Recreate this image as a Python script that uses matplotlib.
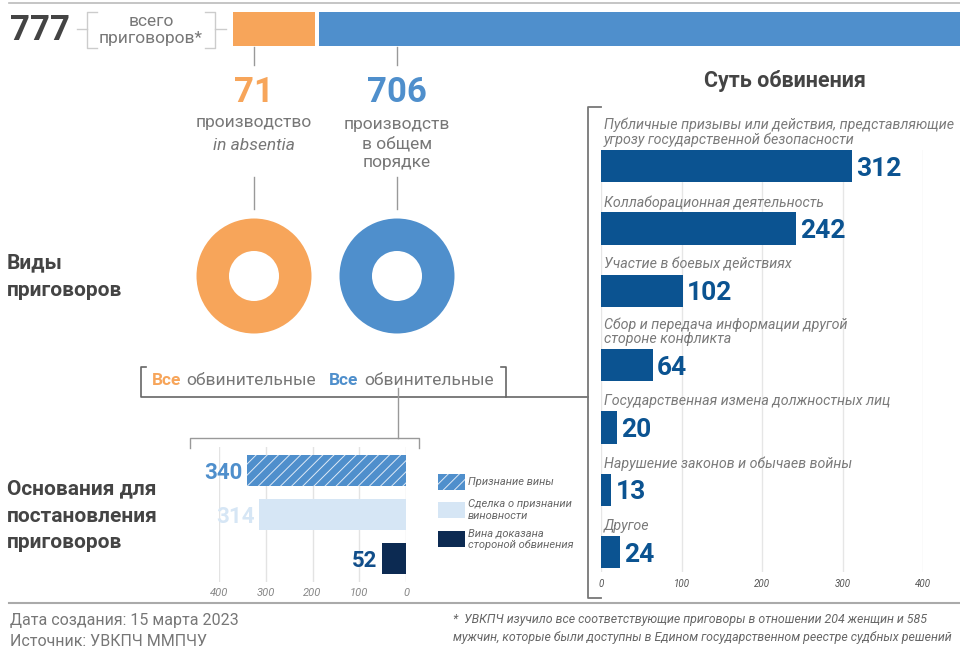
import matplotlib
matplotlib.use('Agg')
import matplotlib.pyplot as plt
from matplotlib.lines import Line2D
from matplotlib.patches import Rectangle

plt.rcParams['font.family'] = ['Roboto', 'DejaVu Sans']
plt.rcParams['hatch.linewidth'] = 0.7

# data
total = 777
kind_values = [71, 706]
kind_labels = [['производство', 'in absentia'], ['производств', 'в общем', 'порядке']]
basis_labels = ['Признание вины', 'Сделка о признании\nвиновности', 'Вина доказана\nстороной обвинения']
basis_values = [340, 314, 52]
charge_labels = ['Публичные призывы или действия, представляющие\nугрозу государственной безопасности',
                 'Коллаборационная деятельность',
                 'Участие в боевых действиях',
                 'Сбор и передача информации другой\nстороне конфликта',
                 'Государственная измена должностных лиц',
                 'Нарушение законов и обычаев войны',
                 'Другое']
charge_values = [312, 242, 102, 64, 20, 13, 24]

ORANGE = '#f7a55a'
BLUE = '#4f8fcc'
LIGHT = '#d6e6f5'
NAVY = '#0c2a52'
DBLUE = '#0b5391'
DARK = '#444444'
GRAY = '#777777'

W, H = 960, 648
fig = plt.figure(figsize=(W / 100, H / 100), dpi=100)


def fx(x):
    return x / W


def fy(y):
    return 1 - y / H


def line(xs, ys, color='#999999', lw=1.0):
    fig.add_artist(Line2D([fx(x) for x in xs], [fy(y) for y in ys], color=color, lw=lw))


def axes(x0, y0, x1, y1):
    return fig.add_axes([x0 / W, 1 - y1 / H, (x1 - x0) / W, (y1 - y0) / H])


def text(x, y, s, **kw):
    kw.setdefault('va', 'center')
    return fig.text(fx(x), fy(y), s, **kw)


# frame lines
line([9, 960], [3, 3], '#bbbbbb', 1.2)
line([9, 960], [603, 603], '#aaaaaa', 1.5)

# top total bar
text(10, 30, str(total), fontsize=25, fontweight='bold', color=DARK, ha='left')
line([77, 87], [29, 29], '#cccccc')
line([97, 87, 87, 97], [12, 12, 48, 48], '#cccccc')
line([205, 215, 215, 205], [12, 12, 48, 48], '#cccccc')
line([215, 226], [29, 29], '#cccccc')
text(151, 21, 'всего', fontsize=12.5, color=GRAY, ha='center')
text(151, 38, 'приговоров*', fontsize=12.5, color=GRAY, ha='center')

ax_top = axes(233, 12, 960, 46)
scale = 82 / kind_values[0]
ax_top.barh(0, kind_values[0], left=0, height=1, color=ORANGE)
ax_top.barh(0, kind_values[1], left=kind_values[0] + 4 / scale, height=1, color=BLUE)
ax_top.set_xlim(0, (960 - 233) / scale)
ax_top.set_ylim(-0.5, 0.5)
ax_top.axis('off')

# kinds of sentences
kind_x = [254, 397]
kind_colors = [ORANGE, BLUE]
for i in range(2):
    cx = kind_x[i]
    line([cx, cx], [47, 65], '#999999')
    line([cx, cx], [177, 209], '#999999')
    text(cx, 93, str(kind_values[i]), fontsize=25, fontweight='bold', color=kind_colors[i], ha='center')
    ys = [123, 146] if i == 0 else [124, 144, 163]
    for j, s in enumerate(kind_labels[i]):
        style = 'italic' if s == 'in absentia' else 'normal'
        text(cx, ys[j], s, fontsize=12.5, color=GRAY, ha='center', style=style)
    axd = axes(cx - 57.5, 276 - 57.5, cx + 57.5, 276 + 57.5)
    axd.pie([kind_values[i]], colors=[kind_colors[i]], radius=1,
            wedgeprops=dict(width=0.565, linewidth=0))
    axd.set_xlim(-1, 1)
    axd.set_ylim(-1, 1)

text(7, 263, 'Виды', fontsize=15, fontweight='bold', color=DARK, ha='left')
text(7, 291, 'приговоров', fontsize=15, fontweight='bold', color=DARK, ha='left')

# bracket "all guilty"
line([146, 141, 141, 506, 506, 501], [367, 367, 397, 397, 367, 367], '#666666', 1.2)
line([506, 588], [397, 397], '#666666', 1.2)
line([398, 398], [388, 438], '#999999')
line([190, 190, 419, 419], [448, 438, 438, 448], '#999999')
text(152, 380, 'Все', fontsize=12.5, fontweight='bold', color=ORANGE, ha='left')
text(186, 380, 'обвинительные', fontsize=12.5, color=GRAY, ha='left')
text(329, 380, 'Все', fontsize=12.5, fontweight='bold', color=BLUE, ha='left')
text(364, 380, 'обвинительные', fontsize=12.5, color=GRAY, ha='left')

# basis of sentences
text(7, 489, 'Основания для', fontsize=15, fontweight='bold', color=DARK, ha='left')
text(7, 516, 'постановления', fontsize=15, fontweight='bold', color=DARK, ha='left')
text(7, 542, 'приговоров', fontsize=15, fontweight='bold', color=DARK, ha='left')

ax_b = axes(219, 447, 406, 582)
basis_face = [BLUE, LIGHT, NAVY]
basis_hatch = ['///', None, None]
basis_text = [BLUE, LIGHT, '#114e8a']
for i, v in enumerate(basis_values):
    ax_b.barh(i, v, height=0.71, color=basis_face[i], hatch=basis_hatch[i],
              edgecolor='#dfeaf6' if basis_hatch[i] else basis_face[i], linewidth=0, zorder=2)
    ax_b.annotate(str(v), (v, i), xytext=(-3, 0), textcoords='offset points', ha='right',
                  va='center_baseline', fontsize=16, fontweight='bold', color=basis_text[i])
ax_b.set_xlim(400, 0)
ax_b.set_ylim(2.55, -0.55)
ax_b.set_xticks([400, 300, 200, 100, 0])
ax_b.set_yticks([])
ax_b.grid(axis='x', color='#e3e3e3', lw=1, zorder=0)
ax_b.tick_params(axis='x', length=0, pad=4, labelsize=8, labelcolor='#888888')
for lab in ax_b.get_xticklabels():
    lab.set_style('italic')
for s in ax_b.spines.values():
    s.set_visible(False)

# legend
leg_y = [482, 510, 539]
for i, s in enumerate(basis_labels):
    fig.add_artist(Rectangle((fx(438), fy(leg_y[i] + 8)), 27 / W, 16 / H,
                             facecolor=basis_face[i], hatch=basis_hatch[i],
                             edgecolor='#dfeaf6' if basis_hatch[i] else basis_face[i], lw=0))
    text(468, leg_y[i], s, fontsize=8, style='italic', color='#666666', ha='left', linespacing=1.15)

# charges
text(785, 81, 'Суть обвинения', fontsize=15.5, fontweight='bold', color=DARK, ha='center')
line([601, 588, 588, 601], [107, 107, 598, 598], '#777777', 1.3)

ax_c = axes(601, 150, 923, 572)
pos = []
p = 0.0
for i, lab in enumerate(charge_labels):
    if i > 0:
        p += 1 + 0.19 * lab.count('\n')
    pos.append(p)
bh = 0.52
ax_c.barh(pos, charge_values, height=bh, color=DBLUE, zorder=2)
for i, v in enumerate(charge_values):
    ax_c.annotate(charge_labels[i], (0, pos[i] - bh / 2), xytext=(2, 2), textcoords='offset points',
                  ha='left', va='bottom', fontsize=10.3, style='italic', color='#7a7a7a',
                  linespacing=1.05, annotation_clip=False)
    ax_c.annotate(str(v), (v, pos[i]), xytext=(3, 0), textcoords='offset points', ha='left',
                  va='center_baseline', fontsize=19, fontweight='bold', color=DBLUE,
                  annotation_clip=False)
ax_c.set_xlim(0, 400)
ax_c.set_ylim(pos[-1] + 0.32, -bh / 2)
ax_c.set_xticks([0, 100, 200, 300, 400])
ax_c.set_yticks([])
ax_c.grid(axis='x', color='#e6e6e6', lw=1, zorder=0)
ax_c.tick_params(axis='x', length=0, pad=5, labelsize=7, labelcolor='#555555')
for lab in ax_c.get_xticklabels():
    lab.set_style('italic')
for s in ax_c.spines.values():
    s.set_visible(False)

# footer
text(10, 621, 'Дата создания: 15 марта 2023', fontsize=11.5, color=GRAY, ha='left')
text(10, 641, 'Источник: УВКПЧ ММПЧУ', fontsize=11.5, color=GRAY, ha='left')
text(453, 620, '*  УВКПЧ изучило все соответствующие приговоры в отношении 204 женщин и 585',
     fontsize=8.9, style='italic', color='#666666', ha='left')
text(453, 637, 'мужчин, которые были доступны в Едином государственном реестре судбных решений',
     fontsize=8.9, style='italic', color='#666666', ha='left')

fig.savefig('out.png', dpi=100)
